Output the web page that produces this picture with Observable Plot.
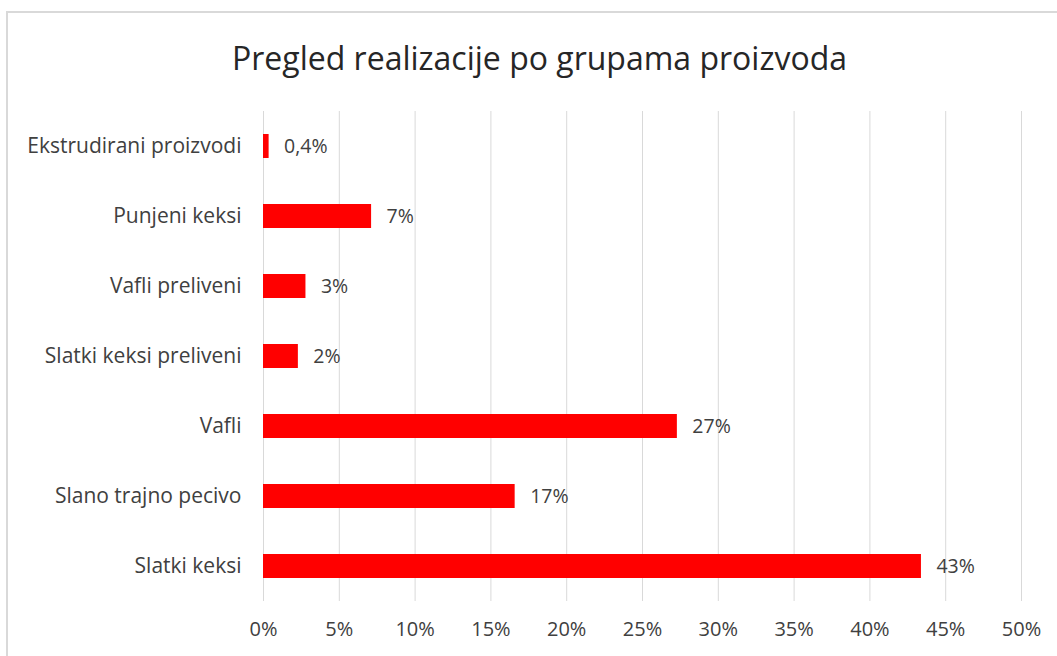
<!DOCTYPE html>
<html>
<head>
<meta charset="utf-8">
<script src="https://cdn.jsdelivr.net/npm/d3@7"></script>
<script src="https://cdn.jsdelivr.net/npm/@observablehq/plot@0.6"></script>
<style>
  html, body { margin: 0; padding: 0; background: #fff; overflow: hidden; }
  body { width: 1057px; height: 656px; position: relative; font-family: "Open Sans", sans-serif; }
  #frame { position: absolute; left: 6px; top: 11px; width: 1200px; height: 800px; border: 2px solid #d9d9d9; box-sizing: border-box; }
  #title { position: absolute; left: 0; top: 14px; width: 1079px; height: 88px; text-align: center; font-size: 32px; line-height: 88px; color: #262626; }
  #chart { position: absolute; left: 0; top: 88px; }
</style>
</head>
<body>
<div id="frame"></div>
<div id="title">Pregled realizacije po grupama proizvoda</div>
<div id="chart"></div>
<script>
const categories = ["Ekstrudirani proizvodi", "Punjeni keksi", "Vafli preliveni", "Slatki keksi preliveni", "Vafli", "Slano trajno pecivo", "Slatki keksi"];
const values = [0.37, 7.13, 2.8, 2.3, 27.3, 16.6, 43.4];
const valueLabels = ["0,4%", "7%", "3%", "2%", "27%", "17%", "43%"];
const xTicks = [0, 5, 10, 15, 20, 25, 30, 35, 40, 45, 50];

const data = categories.map((c, i) => ({category: c, value: values[i], label: valueLabels[i]}));

const chart = Plot.plot({
  width: 1057,
  height: 568,
  marginTop: 23,
  marginBottom: 55,
  marginLeft: 263,
  marginRight: 36,
  style: {fontFamily: "'Open Sans', sans-serif", fontSize: "20px", color: "#404040", background: "transparent"},
  x: {domain: [0, 50], ticks: xTicks, label: null},
  y: {domain: categories, padding: 0, label: null},
  marks: [
    Plot.gridX(xTicks, {stroke: "#d9d9d9", strokeOpacity: 1, strokeWidth: 1}),
    Plot.barX(data, {y: "category", x: "value", fill: "#ff0000", insetTop: 23, insetBottom: 23}),
    Plot.text(data, {y: "category", x: "value", text: "label", textAnchor: "start", dx: 15, fontSize: 19.5, fill: "#404040"}),
    Plot.axisY({tickSize: 0, tickPadding: 22, fontSize: 21, label: null, color: "#404040"}),
    Plot.axisX({ticks: xTicks, tickSize: 0, tickPadding: 20, fontSize: 20, label: null, tickFormat: d => d + "%", color: "#404040"})
  ]
});
document.getElementById("chart").appendChild(chart);
</script>
</body>
</html>
